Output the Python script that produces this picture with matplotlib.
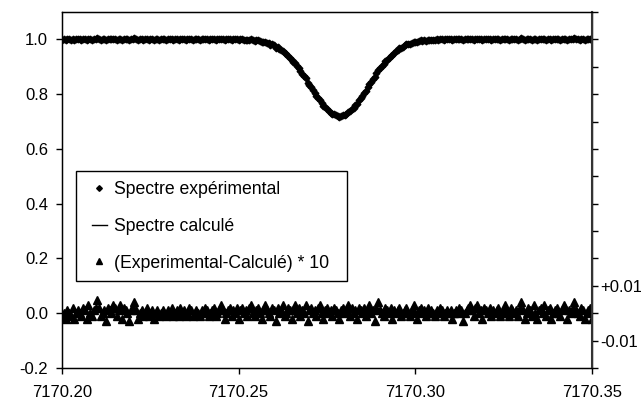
import matplotlib
matplotlib.use("Agg")
import matplotlib.pyplot as plt
from matplotlib.patches import Rectangle
from matplotlib.ticker import FixedLocator, FuncFormatter

plt.rcParams['font.family'] = ['Liberation Sans', 'DejaVu Sans']

# experimental grid: 7170.2000 .. 7170.3500, step 0.0005
exp_start = 7170.200
exp_step = 0.0005
# calculated grid: 7170.200 .. 7170.350, step 0.001
calc_start = 7170.200
calc_step = 0.001

spectre_exp = [
    0.999, 1.000, 0.998, 1.001, 1.000, 0.999, 1.002, 0.998, 1.000, 1.001,
    1.000, 0.999, 1.002, 1.001, 0.998, 1.003, 1.000, 0.999, 1.001, 1.002,
    1.005, 1.002, 0.999, 1.000, 1.001, 0.997, 1.002, 1.001, 1.000, 1.003,
    1.002, 0.999, 1.001, 1.003, 0.998, 1.002, 1.001, 1.000, 0.997, 1.001,
    1.002, 1.004, 1.001, 0.998, 1.000, 1.001, 0.999, 1.000, 1.002, 0.999,
    1.000, 1.001, 0.998, 1.000, 1.001, 0.999, 1.000, 1.001, 1.000, 0.999,
    1.001, 1.000, 1.002, 0.999, 1.000, 1.001, 0.999, 1.002, 1.000, 1.001,
    0.999, 1.000, 1.002, 1.001, 0.999, 1.000, 1.001, 1.000, 0.999, 1.001,
    1.000, 1.002, 1.001, 0.999, 1.000, 1.001, 1.002, 0.999, 1.000, 1.001,
    1.003, 1.001, 0.998, 1.000, 1.001, 1.002, 0.999, 1.001, 1.000, 1.001,
    0.997, 1.000, 1.001, 0.999, 0.999, 0.997, 0.999, 1.000, 0.996, 0.995,
    0.996, 0.996, 0.993, 0.990, 0.991, 0.992, 0.988, 0.985, 0.981, 0.982,
    0.978, 0.970, 0.972, 0.966, 0.962, 0.959, 0.950, 0.945, 0.941, 0.933,
    0.923, 0.919, 0.913, 0.902, 0.895, 0.883, 0.875, 0.865, 0.858, 0.841,
    0.835, 0.826, 0.814, 0.805, 0.793, 0.786, 0.778, 0.766, 0.756, 0.752,
    0.746, 0.738, 0.733, 0.727, 0.727, 0.723, 0.720, 0.718, 0.721, 0.724,
    0.725, 0.729, 0.735, 0.737, 0.746, 0.751, 0.759, 0.764, 0.777, 0.785,
    0.794, 0.806, 0.813, 0.825, 0.837, 0.844, 0.856, 0.862, 0.876, 0.888,
    0.894, 0.902, 0.909, 0.920, 0.926, 0.932, 0.941, 0.943, 0.952, 0.956,
    0.962, 0.968, 0.969, 0.973, 0.978, 0.982, 0.982, 0.984, 0.988, 0.992,
    0.990, 0.990, 0.994, 0.996, 0.995, 0.997, 0.995, 0.999, 0.997, 0.999,
    0.998, 0.998, 1.000, 0.999, 1.001, 1.000, 0.999, 1.000, 1.001, 1.000,
    1.001, 0.998, 1.000, 1.001, 1.000, 1.002, 1.001, 0.997, 1.000, 1.001,
    1.002, 1.003, 1.001, 0.999, 1.002, 1.003, 1.000, 1.001, 0.998, 1.002,
    1.001, 1.000, 1.002, 0.999, 1.001, 1.000, 1.001, 1.002, 0.999, 1.000,
    1.001, 1.003, 1.000, 0.999, 1.002, 1.001, 1.000, 1.001, 0.999, 1.002,
    1.004, 1.001, 0.998, 1.000, 1.002, 1.001, 0.999, 1.003, 1.000, 0.998,
    1.001, 1.002, 1.000, 1.003, 0.999, 1.001, 1.002, 0.998, 1.000, 1.001,
    1.002, 1.000, 0.999, 1.001, 1.003, 1.002, 0.998, 1.001, 1.000, 1.002,
    1.004, 1.001, 1.000, 0.999, 1.002, 1.001, 0.998, 1.000, 1.001, 1.002,
    0.998,
]

residu_x10 = [
    -0.01, 0.00, -0.02, 0.01, 0.00, -0.01, 0.02, -0.02, 0.00, 0.01,
    0.00, -0.01, 0.02, 0.01, -0.02, 0.03, 0.00, -0.01, 0.01, 0.02,
    0.05, 0.02, -0.01, 0.00, 0.01, -0.03, 0.02, 0.01, 0.00, 0.03,
    0.02, -0.01, 0.01, 0.03, -0.02, 0.02, 0.01, 0.00, -0.03, 0.01,
    0.02, 0.04, 0.01, -0.02, 0.00, 0.01, -0.01, 0.00, 0.02, -0.01,
    0.00, 0.01, -0.02, 0.00, 0.01, -0.01, 0.00, 0.01, 0.00, -0.01,
    0.01, 0.00, 0.02, -0.01, 0.00, 0.01, -0.01, 0.02, 0.00, 0.01,
    -0.01, 0.00, 0.02, 0.01, -0.01, 0.00, 0.01, 0.00, -0.01, 0.01,
    0.00, 0.02, 0.01, -0.01, 0.00, 0.01, 0.02, -0.01, 0.00, 0.01,
    0.03, 0.01, -0.02, 0.00, 0.01, 0.02, -0.01, 0.01, 0.00, 0.02,
    -0.02, 0.01, 0.02, 0.00, 0.01, -0.01, 0.02, 0.03, 0.00, -0.01,
    0.01, 0.02, 0.00, -0.02, 0.01, 0.03, 0.01, 0.00, -0.01, 0.02,
    0.01, -0.03, 0.02, 0.00, 0.01, 0.03, -0.01, 0.00, 0.02, 0.01,
    -0.02, 0.01, 0.03, 0.00, 0.02, -0.01, 0.01, 0.00, 0.03, -0.03,
    0.01, 0.02, 0.00, 0.01, -0.01, 0.02, 0.03, 0.00, -0.02, 0.01,
    0.02, 0.00, 0.01, -0.01, 0.02, 0.01, 0.00, -0.02, 0.01, 0.02,
    0.00, 0.01, 0.03, -0.01, 0.02, 0.00, 0.01, -0.02, 0.02, 0.01,
    0.00, 0.02, -0.01, 0.01, 0.03, 0.00, 0.01, -0.03, 0.02, 0.04,
    0.01, 0.00, -0.01, 0.02, 0.01, 0.00, 0.02, -0.02, 0.01, 0.00,
    0.01, 0.02, -0.01, 0.00, 0.01, 0.02, 0.00, -0.01, 0.01, 0.03,
    0.00, -0.02, 0.01, 0.02, 0.00, 0.01, -0.01, 0.02, 0.00, 0.01,
    0.00, -0.01, 0.01, 0.00, 0.02, 0.01, -0.01, 0.00, 0.01, 0.00,
    0.01, -0.02, 0.00, 0.01, 0.00, 0.02, 0.01, -0.03, 0.00, 0.01,
    0.02, 0.03, 0.01, -0.01, 0.02, 0.03, 0.00, 0.01, -0.02, 0.02,
    0.01, 0.00, 0.02, -0.01, 0.01, 0.00, 0.01, 0.02, -0.01, 0.00,
    0.01, 0.03, 0.00, -0.01, 0.02, 0.01, 0.00, 0.01, -0.01, 0.02,
    0.04, 0.01, -0.02, 0.00, 0.02, 0.01, -0.01, 0.03, 0.00, -0.02,
    0.01, 0.02, 0.00, 0.03, -0.01, 0.01, 0.02, -0.02, 0.00, 0.01,
    0.02, 0.00, -0.01, 0.01, 0.03, 0.02, -0.02, 0.01, 0.00, 0.02,
    0.04, 0.01, 0.00, -0.01, 0.02, 0.01, -0.02, 0.00, 0.01, 0.02,
    -0.02,
]

spectre_calc = [
    1.000, 1.000, 1.000, 1.000, 1.000, 1.000, 1.000, 1.000, 1.000, 1.000,
    1.000, 1.000, 1.000, 1.000, 1.000, 1.000, 1.000, 1.000, 1.000, 1.000,
    1.000, 1.000, 1.000, 1.000, 1.000, 1.000, 1.000, 1.000, 1.000, 1.000,
    1.000, 1.000, 1.000, 1.000, 1.000, 1.000, 1.000, 1.000, 1.000, 1.000,
    1.000, 1.000, 1.000, 1.000, 1.000, 1.000, 1.000, 1.000, 1.000, 1.000,
    0.999, 0.999, 0.998, 0.997, 0.996, 0.995, 0.993, 0.990, 0.987, 0.982,
    0.977, 0.970, 0.961, 0.951, 0.939, 0.925, 0.910, 0.893, 0.874, 0.855,
    0.834, 0.814, 0.794, 0.775, 0.758, 0.744, 0.732, 0.725, 0.720, 0.720,
    0.725, 0.732, 0.744, 0.758, 0.775, 0.794, 0.814, 0.834, 0.855, 0.874,
    0.893, 0.910, 0.925, 0.939, 0.951, 0.961, 0.970, 0.977, 0.982, 0.987,
    0.990, 0.993, 0.995, 0.996, 0.997, 0.998, 0.999, 0.999, 1.000, 1.000,
    1.000, 1.000, 1.000, 1.000, 1.000, 1.000, 1.000, 1.000, 1.000, 1.000,
    1.000, 1.000, 1.000, 1.000, 1.000, 1.000, 1.000, 1.000, 1.000, 1.000,
    1.000, 1.000, 1.000, 1.000, 1.000, 1.000, 1.000, 1.000, 1.000, 1.000,
    1.000, 1.000, 1.000, 1.000, 1.000, 1.000, 1.000, 1.000, 1.000, 1.000,
    1.000,
]

x_ticks = [7170.20, 7170.25, 7170.30, 7170.35]
x_ticklabels = ["7170.20", "7170.25", "7170.30", "7170.35"]
y_ticks = [-0.2, 0.0, 0.2, 0.4, 0.6, 0.8, 1.0]
y_ticklabels = ["-0.2", "0.0", "0.2", "0.4", "0.6", "0.8", "1.0"]
right_ticks = [-0.02, -0.01, 0.00, 0.01, 0.02, 0.03, 0.04, 0.05, 0.06,
               0.07, 0.08, 0.09, 0.10, 0.11]
right_labels = {0.01: "+0.01", -0.01: "-0.01"}

labels = ["Spectre expérimental", "Spectre calculé", "(Experimental-Calculé) * 10"]

wl_exp = [exp_start + exp_step * j for j in range(len(spectre_exp))]
wl_calc = [calc_start + calc_step * i for i in range(len(spectre_calc))]

W, H = 641, 407
fig = plt.figure(figsize=(W / 100, H / 100), dpi=100)
ax = fig.add_axes([62 / W, 1 - 368 / H, (592 - 62) / W, (368 - 12) / H])

fs = 12
h_calc, = ax.plot(wl_calc, spectre_calc, color='black', lw=1.0, zorder=2)
h_exp, = ax.plot(wl_exp, spectre_exp, linestyle='none', marker='D', markersize=3.4,
                 color='black', zorder=3)
h_res, = ax.plot(wl_exp, residu_x10, linestyle='none', marker='^', markersize=5.4,
                 color='black', zorder=3)

ax.set_xlim(7170.20, 7170.35)
ax.set_ylim(-0.2, 1.1)
ax.set_xticks(x_ticks)
ax.set_xticklabels(x_ticklabels, fontsize=fs)
ax.set_yticks(y_ticks)
ax.set_yticklabels(y_ticklabels, fontsize=fs)
ax.tick_params(direction='out', length=4, width=1, pad=6)
ax.tick_params(axis='x', pad=8)
for s in ax.spines.values():
    s.set_linewidth(1.0)
    s.set_color('black')

ax2 = ax.twinx()
ax2.set_ylim(-0.02, 0.11)
ax2.yaxis.set_major_locator(FixedLocator(right_ticks))
ax2.yaxis.set_major_formatter(FuncFormatter(
    lambda v, p: right_labels.get(round(v, 2), "")))
ax2.tick_params(axis='y', direction='out', length=4, width=1, labelsize=fs, pad=2)
ax2.spines['right'].set_linewidth(1.5)
ax2.spines['right'].set_color('#333333')

# legend frame (box 76..347 x 171..281 px)
frame = Rectangle((76 / W, 1 - 281 / H), (347 - 76) / W, (281 - 171) / H,
                  transform=fig.transFigure, facecolor='white', edgecolor='black',
                  linewidth=1.0, zorder=4, clip_on=False)
ax2.add_patch(frame)

leg = ax2.legend([h_exp, h_calc, h_res], labels, loc='upper left',
                 bbox_to_anchor=(92 / W, 1 - 181 / H),
                 bbox_transform=fig.transFigure, fontsize=12.7, frameon=False,
                 borderpad=0, labelspacing=1.12,
                 handlelength=0.85, handletextpad=0.4, borderaxespad=0,
                 markerscale=0.85)
leg.set_zorder(6)

fig.savefig("out.png", dpi=100)
